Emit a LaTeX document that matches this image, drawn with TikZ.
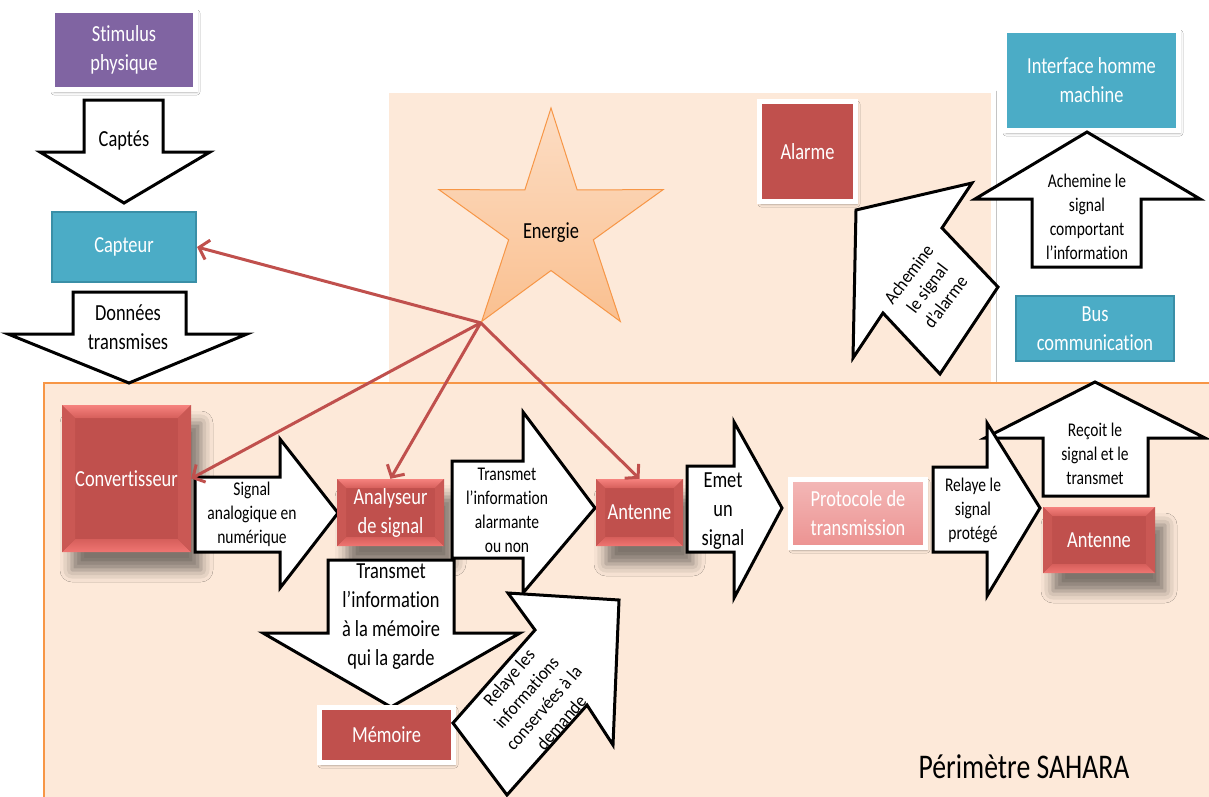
\documentclass[tikz,border=0pt]{standalone}
\usepackage{fontspec}
\setmainfont{Carlito}[FakeStretch=0.8, Ligatures=NoCommon]
\newfontfamily\tiltfont{Carlito}[FakeStretch=0.92, Ligatures=NoCommon]
\usetikzlibrary{shapes.geometric,arrows.meta,shadows.blur}

\definecolor{peach}{HTML}{FDE9D9}
\definecolor{zoneline}{HTML}{F79646}
\definecolor{accred}{HTML}{C0504D}
\definecolor{bevlight}{HTML}{F6827E}
\definecolor{bevmid}{HTML}{D65F5B}
\definecolor{bevbot}{HTML}{F07572}
\definecolor{bevside}{HTML}{CA5854}
\definecolor{boxteal}{HTML}{4BACC6}
\definecolor{tealdark}{HTML}{3A8FA7}
\definecolor{boxviolet}{HTML}{8064A2}
\definecolor{starfillA}{HTML}{FCDDC4}
\definecolor{starfillB}{HTML}{FAC090}
\definecolor{pinkA}{HTML}{F3B8B7}
\definecolor{pinkB}{HTML}{EC9291}

\newcommand\lblbig{\fontsize{23}{29}\selectfont}
\newcommand\lblsmall{\fontsize{19.4}{24}\selectfont}
\newcommand\lbltilt{\tiltfont\fontsize{18.5}{23}\selectfont}

\tikzset{
  blockarrow/.style={draw=black, fill=white, line width=3pt, line join=miter, miter limit=10},
  arrowtxt/.style={align=center, font=\lblsmall, text=black, inner sep=0pt},
  tilttxt/.style={align=center, font=\lbltilt, text=black, inner sep=0pt},
  arrowtxtbig/.style={align=center, font=\lblbig, text=black, inner sep=0pt},
  boxtxt/.style={align=center, font=\lblbig, text=white, inner sep=0pt},
  framedbox/.style={draw=white, line width=5pt,
    blur shadow={shadow xshift=1.5pt, shadow yshift=-2.5pt, shadow blur radius=3pt, shadow opacity=30}},
  powerline/.style={draw=accred, line width=3pt, -{Straight Barb[length=9pt,width=20pt]}},
  bevshadow/.style={blur shadow={shadow xshift=10pt, shadow yshift=-18pt, shadow blur radius=12pt, shadow opacity=50}}
}

% bevelled red box: name, centre x, centre y, width, height, bevel, text
\newcommand\bevelbox[7]{%
  \fill[accred, bevshadow] ({#2-#4/2},{#3-#5/2}) rectangle ({#2+#4/2},{#3+#5/2});
  \shade[top color=bevlight, bottom color=bevmid]
    ({#2-#4/2},{#3-#5/2}) -- ({#2+#4/2},{#3-#5/2}) -- ({#2+#4/2-#6},{#3-#5/2+#6}) -- ({#2-#4/2+#6},{#3-#5/2+#6}) -- cycle;
  \shade[top color=bevmid, bottom color=bevbot]
    ({#2-#4/2},{#3+#5/2}) -- ({#2+#4/2},{#3+#5/2}) -- ({#2+#4/2-#6},{#3+#5/2-#6}) -- ({#2-#4/2+#6},{#3+#5/2-#6}) -- cycle;
  \fill[bevside]
    ({#2-#4/2},{#3-#5/2}) -- ({#2-#4/2+#6},{#3-#5/2+#6}) -- ({#2-#4/2+#6},{#3+#5/2-#6}) -- ({#2-#4/2},{#3+#5/2}) -- cycle;
  \fill[bevside]
    ({#2+#4/2},{#3-#5/2}) -- ({#2+#4/2-#6},{#3-#5/2+#6}) -- ({#2+#4/2-#6},{#3+#5/2-#6}) -- ({#2+#4/2},{#3+#5/2}) -- cycle;
  \node[boxtxt, minimum width=#4pt, minimum height=#5pt] (#1) at (#2,#3) {#7};
}

\begin{document}
\begin{tikzpicture}[x=1pt, y=-1pt]
\useasboundingbox (0,0) rectangle (1209,796);
\fill[white] (0,0) rectangle (1209,796);

% zones
\fill[peach, draw=white, line width=5pt,
  blur shadow={shadow xshift=1pt, shadow yshift=-1.5pt, shadow blur radius=2pt, shadow opacity=15}]
  (386.5,90.5) rectangle (993.5,400);
\fill[peach] (44,383) rectangle (1215,800);
\draw[zoneline, line width=1.2pt] (1215,383) -- (44,383) -- (44,800);
\node[font=\fontsize{34.6}{40}\selectfont, inner sep=0pt] (perimetre) at (1024,767) {Périmètre SAHARA};

% capture chain
\node[framedbox, fill=boxviolet, minimum width=143pt, minimum height=79pt, boxtxt] (stim) at (124,50) {Stimulus\\physique};
\draw[blockarrow] (84,100) -- (163,100) -- (163,152) -- (210,152) -- (124,203) -- (40,152) -- (84,152) -- cycle;
\node[arrowtxtbig] (captes) at (124,140) {Captés};
\node[fill=boxteal, draw=tealdark, line width=2pt, minimum width=144pt, minimum height=70pt, boxtxt] (capteur) at (124,247) {Capteur};
\draw[blockarrow] (73,292) -- (186,292) -- (186,334) -- (247,334) -- (129,383) -- (8,334) -- (73,334) -- cycle;
\node[arrowtxtbig] (donnees) at (128,327) {Données\\transmises};

% energy source
\node[star, star points=5, star point ratio=2.65, minimum size=236pt, inner sep=0pt,
  draw=zoneline, line width=1pt, top color=starfillA, bottom color=starfillB] (energie) at (551,226) {};
\node[arrowtxtbig] (energielbl) at ([yshift=-7pt]energie.center) {Energie};

% alarm and interface side
\node[framedbox, fill=accred, minimum width=96pt, minimum height=100pt, boxtxt] (alarme) at (807.5,151.5) {Alarme};
\node[framedbox, fill=boxteal, minimum width=174pt, minimum height=100pt, boxtxt] (ihm) at (1091.5,80.5) {Interface homme\\machine};
\draw[blockarrow] (1032,267) -- (1032,199) -- (975,199) -- (1087,132) -- (1200,199) -- (1141,199) -- (1141,267) -- cycle;
\node[arrowtxt] (achihm) at (1087,217) {Achemine le\\signal\\comportant\\l’information};
\draw[blockarrow] (856,210) -- (972,183) -- (942,228) -- (998,287) -- (940,374) -- (883,313) -- (853,358) -- cycle;
\node[tilttxt, rotate=53] (achalarme) at (927,288) {Achemine\\le signal\\d’alarme};
\node[fill=boxteal, draw=tealdark, line width=2pt, minimum width=158pt, minimum height=65pt, boxtxt] (bus) at (1095,328.5) {Bus\\communication};

% processing chain
\bevelbox{conv}{126.5}{478.5}{129}{147}{13}{Convertisseur}
\draw[blockarrow] (195,477) -- (280,477) -- (280,439) -- (338,513) -- (280,588) -- (280,552) -- (195,552) -- cycle;
\node[arrowtxt] (signalan) at (252,514) {Signal\\analogique en\\numérique};
\bevelbox{analyseur}{390.5}{512.5}{107}{67}{9}{Analyseur\\de signal}
\draw[blockarrow] (452,461) -- (523,461) -- (523,412) -- (595,508) -- (523,593) -- (523,558) -- (452,558) -- cycle;
\node[arrowtxt] (transalarm) at (507,510) {Transmet\\l’information\\alarmante\\ou non};
\draw[blockarrow] (328,560) -- (454,560) -- (454,633) -- (520,633) -- (391,707) -- (263,633) -- (328,633) -- cycle;
\node[arrowtxtbig] (transmem) at (391,617) {Transmet\\l’information\\à la mémoire\\qui la garde};
\node[framedbox, fill=accred, minimum width=134pt, minimum height=55pt, boxtxt] (memoire) at (386.5,735) {Mémoire};
\draw[blockarrow] (508,593) -- (619,600) -- (613,745) -- (587,705) -- (507,795) -- (453,723) -- (535,630) -- cycle;
\node[tilttxt, rotate=49] (relayeinfo) at (535,700) {Relaye les\\informations\\conservées à la\\demande};
\bevelbox{antenneA}{639.5}{512.5}{87}{67}{9}{Antenne}
\draw[blockarrow] (687,466) -- (734,466) -- (734,422) -- (782,508) -- (734,598) -- (734,552) -- (687,552) -- cycle;
\node[arrowtxtbig] (emet) at (723,511) {Emet\\un\\signal};
\node[draw=white, line width=5pt, top color=pinkA, bottom color=pinkB,
  blur shadow={shadow xshift=1.5pt, shadow yshift=-2.5pt, shadow blur radius=3pt, shadow opacity=30},
  minimum width=135pt, minimum height=68pt, boxtxt] (protocole) at (858,513.5) {Protocole de\\transmission};
\draw[blockarrow] (1043,496) -- (1043,438) -- (985,438) -- (1095,382) -- (1205,438) -- (1148,438) -- (1148,496) -- cycle;
\node[arrowtxt] (recoit) at (1095,454) {Reçoit le\\signal et le\\transmet};
\draw[blockarrow] (933,467) -- (987,467) -- (987,423) -- (1040,508) -- (987,596) -- (987,552) -- (933,552) -- cycle;
\node[arrowtxt] (relayeprot) at (973,510) {Relaye le\\signal\\protégé};
\bevelbox{antenneB}{1099}{540}{112}{66}{9}{Antenne}

% power supply links
\draw[powerline] (energie.outer point 3) -- (capteur.east);
\draw[powerline] (energie.outer point 3) -- (conv.east);
\draw[powerline] (energie.outer point 3) -- (analyseur.north);
\draw[powerline] (energie.outer point 3) -- (antenneA.north);
\end{tikzpicture}
\end{document}
